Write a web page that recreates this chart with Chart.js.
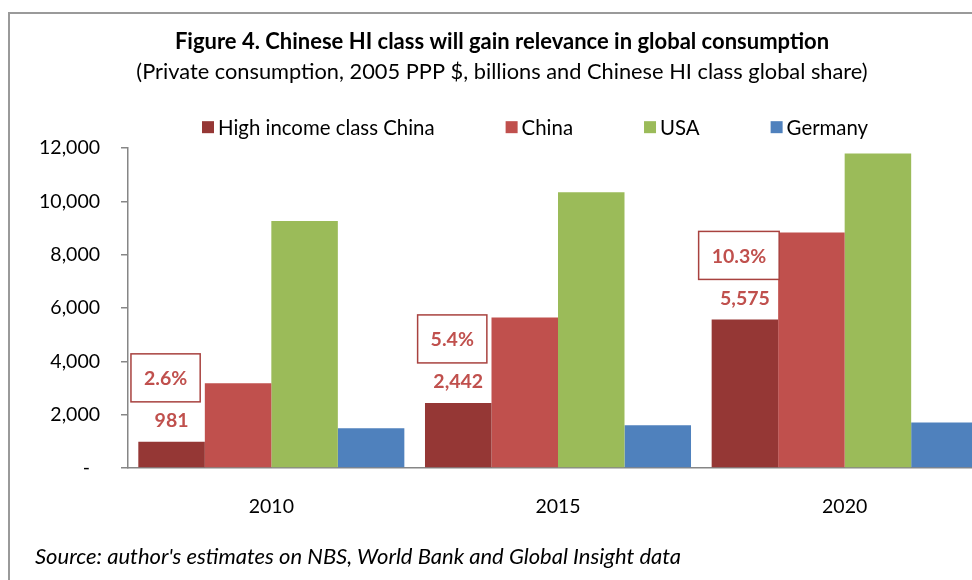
<!DOCTYPE html>
<html>
<head>
<meta charset="utf-8">
<script src="https://cdn.jsdelivr.net/npm/chart.js@4/dist/chart.umd.min.js"></script>
<style>
  html, body { margin: 0; padding: 0; background: #fff; overflow: hidden; width: 972px; height: 580px; }
  #frame { position: absolute; left: 8px; top: 12px; width: 1100px; height: 700px; border: 2px solid #9a9a9a; box-sizing: border-box; }
  #wrap { position: absolute; left: 0; top: 0; width: 1004px; height: 580px; }
  #source { position: absolute; left: 35px; top: 542px; font: italic 22px Lato, "Open Sans", sans-serif; color: #000; white-space: nowrap; }
</style>
</head>
<body>
<div id="frame"></div>
<div id="wrap"><canvas id="chart" width="1004" height="580"></canvas></div>
<div id="source">Source: author's estimates on NBS, World Bank and Global Insight data</div>
<script>
// Private consumption, 2005 PPP $, billions
const years = ['2010', '2015', '2020'];
const seriesNames = ['High income class China', 'China', 'USA', 'Germany'];
const hiClassChina = [981, 2442, 5575];
const china = [3180, 5650, 8840];
const usa = [9270, 10350, 11800];
const germany = [1490, 1600, 1710];
// Chinese high-income class share of global consumption
const hiGlobalShare = ['2.6%', '5.4%', '10.3%'];
const yTickValues = [0, 2000, 4000, 6000, 8000, 10000, 12000];

const FONT = 'Lato, "Open Sans", sans-serif';
const AXIS_GREY = '#868686';
const LABEL_RED = '#C0504D';

// Row of square legend markers with wide spacing between items
const legendRow = {
  id: 'legendRow',
  afterDraw(chart, args, opts) {
    const ctx = chart.ctx;
    ctx.save();
    ctx.font = `20.4px ${FONT}`;
    ctx.textBaseline = 'middle';
    ctx.textAlign = 'left';
    const y = chart.chartArea.top - opts.rise;
    let x = chart.chartArea.left + opts.offset;
    chart.data.datasets.forEach(ds => {
      ctx.fillStyle = ds.backgroundColor;
      ctx.fillRect(x, y - 6, 12, 12);
      ctx.fillStyle = '#000';
      ctx.fillText(ds.label, x + 16, y + 1);
      x += 16 + ctx.measureText(ds.label).width + opts.gap;
    });
    ctx.restore();
  }
};

// Value labels and share call-outs above the high income class bars
const shareCallouts = {
  id: 'shareCallouts',
  afterDatasetsDraw(chart) {
    const ctx = chart.ctx;
    const meta = chart.getDatasetMeta(0);
    ctx.save();
    ctx.font = `bold 19.5px ${FONT}`;
    ctx.textAlign = 'center';
    ctx.textBaseline = 'middle';
    meta.data.forEach((bar, i) => {
      ctx.fillStyle = LABEL_RED;
      ctx.fillText(hiClassChina[i].toLocaleString('en-US'), bar.x, bar.y - 21);
      const share = hiGlobalShare[i];
      const w = ctx.measureText(share).width + 26;
      const h = 48;
      const cx = bar.x - 6;
      const bottom = bar.y - 40;
      ctx.fillStyle = '#fff';
      ctx.fillRect(cx - w / 2, bottom - h, w, h);
      ctx.strokeStyle = '#A8423F';
      ctx.lineWidth = 1.5;
      ctx.strokeRect(cx - w / 2, bottom - h, w, h);
      ctx.fillStyle = LABEL_RED;
      ctx.fillText(share, cx, bottom - h / 2 + 1);
    });
    ctx.restore();
  }
};

const colors = ['#953735', '#C0504D', '#9BBB59', '#4F81BD'];
const values = [hiClassChina, china, usa, germany];

new Chart(document.getElementById('chart'), {
  type: 'bar',
  data: {
    labels: years,
    datasets: seriesNames.map((name, i) => ({
      label: name,
      data: values[i],
      backgroundColor: colors[i],
      borderWidth: 0,
      categoryPercentage: 0.928,
      barPercentage: 1.0
    }))
  },
  plugins: [legendRow, shareCallouts],
  options: {
    responsive: false,
    animation: false,
    layout: { padding: { left: 16, right: 16, top: 0, bottom: 0 } },
    plugins: {
      legend: { display: false },
      tooltip: { enabled: false },
      title: {
        display: true,
        text: 'Figure 4. Chinese HI class will gain relevance in global consumption',
        color: '#000',
        font: { family: FONT, size: 22, weight: 'bold', lineHeight: 1.1 },
        padding: { top: 30, bottom: 6 }
      },
      subtitle: {
        display: true,
        text: '(Private consumption, 2005 PPP $, billions and Chinese HI class global share)',
        color: '#000',
        font: { family: FONT, size: 21.8, weight: 'normal', lineHeight: 1.1 },
        padding: { top: 0, bottom: 64 }
      },
      legendRow: { offset: 74, gap: 71, rise: 21 }
    },
    scales: {
      x: {
        grid: { display: false, drawTicks: false },
        border: { color: AXIS_GREY, width: 1.5 },
        ticks: { color: '#000', font: { family: FONT, size: 19.5 }, padding: 27 },
        afterFit(scale) { scale.height = 112; }
      },
      y: {
        min: 0,
        max: 12000,
        afterBuildTicks(scale) { scale.ticks = yTickValues.map(v => ({ value: v })); },
        grid: { drawOnChartArea: false, drawTicks: true, tickLength: 7, color: AXIS_GREY, lineWidth: 1.5 },
        border: { color: AXIS_GREY, width: 1.5 },
        ticks: {
          color: '#000',
          font: { family: FONT, size: 19.5 },
          padding: 21,
          callback: v => (v === 0 ? '-  ' : v.toLocaleString('en-US'))
        },
        afterFit(scale) { scale.width = 112; }
      }
    }
  }
});
</script>
</body>
</html>
